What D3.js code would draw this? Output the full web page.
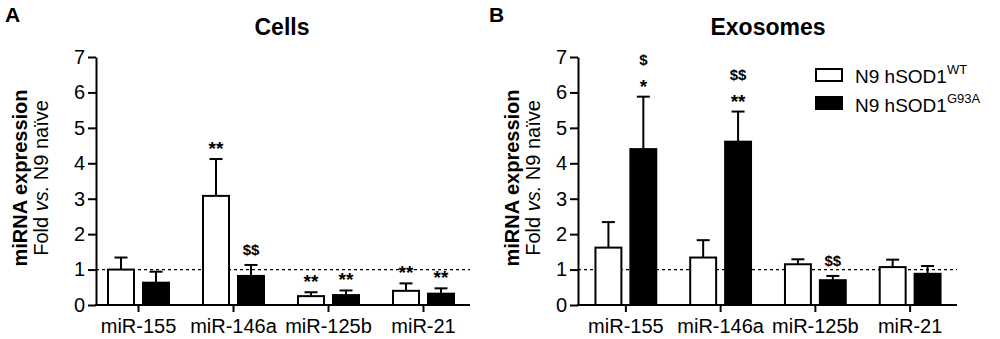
<!DOCTYPE html>
<html>
<head>
<meta charset="utf-8">
<script src="https://d3js.org/d3.v7.min.js" charset="utf-8"></script>
</head>
<body>
<div id="chart"></div>

<style>
    body {margin:0;background:#fff;}
    svg text {font-family:"Liberation Sans", Arial, sans-serif;fill:#000;}
</style>

<script>

const width = 1000, height = 339;

// data
const categories = ["miR-155", "miR-146a", "miR-125b", "miR-21"];
const series = ["N9 hSOD1", "N9 hSOD1"];
const seriesSup = ["WT", "G93A"];

const cellsWT = [1.00, 3.08, 0.25, 0.40];
const cellsWTerr = [0.34, 1.04, 0.11, 0.21];
const cellsG93A = [0.63, 0.82, 0.28, 0.32];
const cellsG93Aerr = [0.31, 0.31, 0.13, 0.15];

const exoWT = [1.62, 1.34, 1.15, 1.07];
const exoWTerr = [0.72, 0.49, 0.14, 0.21];
const exoG93A = [4.40, 4.61, 0.70, 0.88];
const exoG93Aerr = [1.48, 0.85, 0.12, 0.22];

// significance marks: [category index, series index, lines from bottom up]
const cellsMarks = [[1, 0, ["**"]], [1, 1, ["$$"]], [2, 0, ["**"]], [2, 1, ["**"]], [3, 0, ["**"]], [3, 1, ["**"]]];
const exoMarks = [[0, 1, ["*", "$"]], [1, 1, ["**", "$$"]], [2, 1, ["$$"]]];

const yTicks = [0, 1, 2, 3, 4, 5, 6, 7];

const svg = d3.select("#chart").append("svg")
    .attr("width", width)
    .attr("height", height);

const y = d3.scaleLinear()
    .domain([0, 7])
    .range([305, 57]);

function drawPanel(opt) {
    const g = svg.append("g");

    const x0 = d3.scaleBand()
        .domain(categories)
        .range(opt.xRange);

    const x1 = d3.scaleBand()
        .domain([0, 1])
        .range([16 / 95 * x0.bandwidth(), 79 / 95 * x0.bandwidth()])
        .paddingInner(0.2);

    const rows = [];
    categories.forEach((c, i) => {
        rows.push({cat: c, s: 0, v: opt.wt[i], e: opt.wtErr[i]});
        rows.push({cat: c, s: 1, v: opt.mut[i], e: opt.mutErr[i]});
    });
    const cx = d => x0(d.cat) + x1(d.s) + x1.bandwidth() / 2;

    // reference line at 1
    g.append("line")
        .attr("x1", opt.axisX)
        .attr("x2", opt.xEnd)
        .attr("y1", y(1))
        .attr("y2", y(1))
        .style("stroke", "#000")
        .style("stroke-width", "1.3px")
        .style("stroke-dasharray", "3 3");

    // error bars (upper only)
    const eb = g.selectAll(".err").data(rows).enter().append("g");
    eb.append("line")
        .attr("x1", cx)
        .attr("x2", cx)
        .attr("y1", d => y(d.v))
        .attr("y2", d => y(d.v + d.e))
        .style("stroke", "#000")
        .style("stroke-width", "2px");
    eb.append("line")
        .attr("x1", d => cx(d) - 6.5)
        .attr("x2", d => cx(d) + 6.5)
        .attr("y1", d => y(d.v + d.e))
        .attr("y2", d => y(d.v + d.e))
        .style("stroke", "#000")
        .style("stroke-width", "2px");

    // bars
    g.selectAll(".bar").data(rows).enter().append("rect")
        .attr("x", d => x0(d.cat) + x1(d.s) + 1)
        .attr("width", x1.bandwidth() - 2)
        .attr("y", d => y(d.v))
        .attr("height", d => y(0) - y(d.v))
        .style("fill", d => d.s === 0 ? "#fff" : "#000")
        .style("stroke", "#000")
        .style("stroke-width", "2px");

    // y axis
    const yAxis = g.append("g")
        .attr("transform", `translate(${opt.axisX},0)`)
        .call(d3.axisLeft(y).tickValues(yTicks).tickFormat(d3.format("d"))
            .tickSize(8).tickSizeOuter(0).tickPadding(3));
    yAxis.selectAll("path, line").style("stroke", "#000").style("stroke-width", "2px");
    yAxis.selectAll("text").style("font-size", "20px").style("font-family", "Liberation Sans, Arial, sans-serif");

    // x axis
    const xAxis = g.append("g")
        .attr("transform", `translate(0,${y(0)})`)
        .call(d3.axisBottom(x0).tickSize(7).tickPadding(7));
    xAxis.select(".domain").remove();
    xAxis.append("line")
        .attr("x1", opt.axisX - 1)
        .attr("x2", opt.xEnd)
        .style("stroke", "#000")
        .style("stroke-width", "2px");
    xAxis.selectAll(".tick line").style("stroke", "#000").style("stroke-width", "2px");
    xAxis.selectAll("text").style("font-size", "20px").style("font-family", "Liberation Sans, Arial, sans-serif");

    // significance marks
    opt.marks.forEach(m => {
        const row = rows.find(r => r.cat === categories[m[0]] && r.s === m[1]);
        let base = y(row.v + row.e);
        m[2].forEach((t, k) => {
            const dollar = t[0] === "$";
            base = k === 0 ? base - (dollar ? 10 : 4) : base - 28;
            g.append("text")
                .attr("x", cx(row))
                .attr("y", base)
                .attr("text-anchor", "middle")
                .style("font-size", dollar ? "15px" : "19px")
                .style("font-weight", "bold")
                .text(t);
        });
    });

    // title
    svg.append("text")
        .attr("x", opt.titleX)
        .attr("y", 35)
        .attr("text-anchor", "middle")
        .style("font-size", "23px")
        .style("font-weight", "bold")
        .text(opt.title);

    // panel letter
    svg.append("text")
        .attr("x", opt.letterX)
        .attr("y", 22)
        .style("font-size", "21px")
        .style("font-weight", "bold")
        .text(opt.letter);

    // y label
    const yl = svg.append("text")
        .attr("transform", `translate(${opt.labelX},178) rotate(-90)`)
        .attr("text-anchor", "middle");
    yl.append("tspan")
        .attr("x", 0)
        .attr("y", 0)
        .style("font-size", "20px")
        .style("font-weight", "bold")
        .text("miRNA expression");
    const l2 = yl.append("tspan")
        .attr("x", 0)
        .attr("y", 21)
        .style("font-size", "20px");
    l2.append("tspan").text("Fold ");
    l2.append("tspan").style("font-style", "italic").text("vs.");
    l2.append("tspan").text(" N9 naïve");
}

drawPanel({
    xRange: [91, 471], axisX: 96, xEnd: 470,
    wt: cellsWT, wtErr: cellsWTerr, mut: cellsG93A, mutErr: cellsG93Aerr,
    marks: cellsMarks, title: "Cells", titleX: 282, letter: "A", letterX: 5, labelX: 26.5
});

drawPanel({
    xRange: [578.5, 957.5], axisX: 578, xEnd: 957,
    wt: exoWT, wtErr: exoWTerr, mut: exoG93A, mutErr: exoG93Aerr,
    marks: exoMarks, title: "Exosomes", titleX: 768, letter: "B", letterX: 489, labelX: 518.5
});

// legend
const legend = svg.append("g").attr("transform", "translate(816,69)");
series.forEach((s, i) => {
    legend.append("rect")
        .attr("x", 0)
        .attr("y", i * 28)
        .attr("width", 26)
        .attr("height", 12)
        .style("fill", i === 0 ? "#fff" : "#000")
        .style("stroke", "#000")
        .style("stroke-width", "2px");
    const t = legend.append("text")
        .attr("x", 39)
        .attr("y", 14 + i * 29)
        .style("font-size", "19px");
    t.append("tspan").text(s);
    t.append("tspan")
        .attr("dy", -9)
        .style("font-size", "13px")
        .text(seriesSup[i]);
});

</script>
</body>
</html>
